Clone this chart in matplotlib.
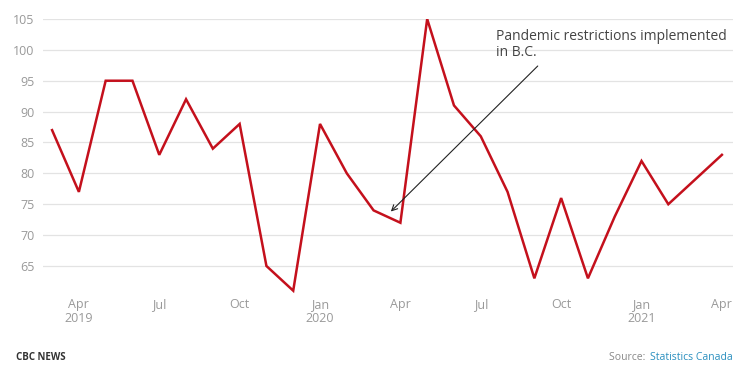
import matplotlib
matplotlib.use("Agg")
import matplotlib.pyplot as plt

plt.rcParams['font.family'] = ['Open Sans', 'DejaVu Sans']

# monthly values, Mar 2019 .. Apr 2021
months = ["2019-03", "2019-04", "2019-05", "2019-06", "2019-07", "2019-08",
          "2019-09", "2019-10", "2019-11", "2019-12", "2020-01", "2020-02",
          "2020-03", "2020-04", "2020-05", "2020-06", "2020-07", "2020-08",
          "2020-09", "2020-10", "2020-11", "2020-12", "2021-01", "2021-02",
          "2021-03", "2021-04"]
values = [87, 77, 95, 95, 83, 92, 84, 88, 65, 61, 88, 80, 74, 72, 105,
          91, 86, 77, 63, 76, 63, 73, 82, 75, 79, 83]

tick_months = ["2019-04", "2019-07", "2019-10", "2020-01", "2020-04",
               "2020-07", "2020-10", "2021-01", "2021-04"]
tick_labels = ["Apr\n2019", "Jul", "Oct", "Jan\n2020", "Apr", "Jul", "Oct",
               "Jan\n2021", "Apr"]
y_ticks = [65, 70, 75, 80, 85, 90, 95, 100, 105]

note = "Pandemic restrictions implemented\nin B.C."
note_month = "2020-03"

x = list(range(len(months)))

fig = plt.figure(figsize=(7.54, 3.72), dpi=100)
ax = fig.add_axes([0.057, 0.202, 0.915, 0.747])

ax.plot(x, values, color="#c4101c", linewidth=1.8, solid_joinstyle="miter")

ax.set_xlim(-0.34, 25.41)
ax.set_ylim(60, 105)
ax.set_yticks(y_ticks)
ax.set_xticks([months.index(m) for m in tick_months])
ax.set_xticklabels(tick_labels, linespacing=1.1)

ax.yaxis.grid(True, color="#e3e3e3", linewidth=0.9)
ax.set_axisbelow(True)
for s in ax.spines.values():
    s.set_visible(False)
ax.tick_params(axis="both", length=0, colors="#999999", labelsize=9)
ax.tick_params(axis="y", pad=6)
ax.tick_params(axis="x", pad=1)

# annotation
ni = months.index(note_month)
ax.annotate("", xy=(ni + 0.57, values[ni] - 0.5), xytext=(ni + 6.2, 97.7),
            arrowprops=dict(arrowstyle="->", color="#222222", lw=0.8))
ax.text(ni + 4.55, 103.3, note, fontsize=10, color="#444444",
        va="top", ha="left", linespacing=1.05)

# footer
fig.text(0.021, 0.04, "CBC NEWS", fontsize=7, fontweight="bold",
         color="#333333", va="center", ha="left")
fig.text(0.862, 0.04, "Statistics Canada", fontsize=7.5,
         color="#2a8fbf", va="center", ha="left")
fig.text(0.860, 0.04, "Source: ", fontsize=7.5, color="#888888",
         va="center", ha="right")

fig.savefig("out.png", dpi=100)
